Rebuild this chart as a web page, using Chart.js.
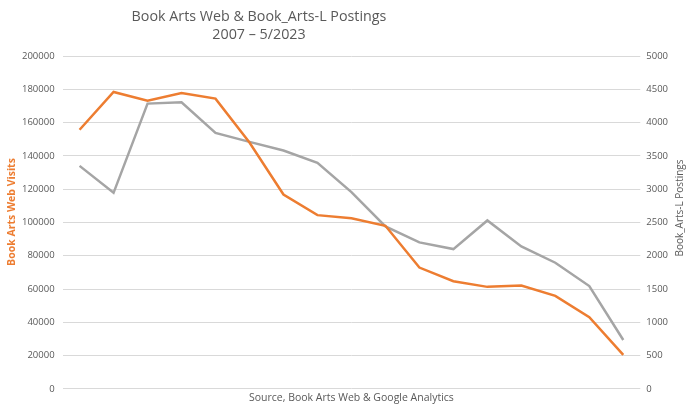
<!DOCTYPE html>
<html>
<head>
<meta charset="utf-8">
<script src="https://cdn.jsdelivr.net/npm/chart.js@4"></script>
<style>
  html, body { margin: 0; padding: 0; background: #fff; }
  #wrap { width: 686px; height: 406px; position: relative; }
</style>
</head>
<body>
<div id="wrap"><canvas id="chart"></canvas></div>
<script>
// years 2007 .. 2023 (x axis labels not shown in the original)
const years = ['2007', '2008', '2009', '2010', '2011', '2012', '2013', '2014', '2015',
               '2016', '2017', '2018', '2019', '2020', '2021', '2022', '2023'];
const webVisits = [155700, 178400, 173200, 177700, 174400, 148000, 116800, 104400, 102500,
                   98000, 72900, 64700, 61300, 62100, 55900, 43100, 20400];
const listPostings = [3350, 2945, 4285, 4305, 3845, 3710, 3580, 3395, 2955,
                      2440, 2200, 2100, 2530, 2140, 1895, 1545, 735];
const titleLines = ['Book Arts Web & Book_Arts-L Postings', '2007 \u2013 5/2023'];
const leftTitle = 'Book Arts Web Visits';
const rightTitle = 'Book_Arts-L Postings';

const fontFamily = '"Open Sans", "DejaVu Sans", sans-serif';
const textGray = '#595959';
const orange = '#ED7D31';

// title sits left of centre and the axis titles are not centred on the plot,
// so they are drawn here
const textPlugin = {
    id: 'extraText',
    afterDraw(chart) {
        const ctx = chart.ctx;
        ctx.save();
        ctx.fillStyle = textGray;
        ctx.font = '14.3px ' + fontFamily;
        ctx.textAlign = 'center';
        ctx.textBaseline = 'middle';
        ctx.fillText(titleLines[0], 259, 17);
        ctx.fillText(titleLines[1], 259, 35);

        ctx.save();
        ctx.fillStyle = orange;
        ctx.font = 'bold 10.5px ' + fontFamily;
        ctx.translate(12, 212);
        ctx.rotate(-Math.PI / 2);
        ctx.fillText(leftTitle, 0, 0);
        ctx.restore();

        ctx.font = '10px ' + fontFamily;
        ctx.translate(680, 208);
        ctx.rotate(-Math.PI / 2);
        ctx.fillText(rightTitle, 0, 0);
        ctx.restore();
    }
};

new Chart(document.getElementById('chart'), {
    type: 'line',
    data: {
        labels: years,
        datasets: [
            {
                label: 'Book Arts Web Visits',
                data: webVisits,
                borderColor: orange,
                borderWidth: 2.5,
                pointRadius: 0,
                tension: 0,
                yAxisID: 'y'
            },
            {
                label: 'Book_Arts-L Postings',
                data: listPostings,
                borderColor: '#A5A5A5',
                borderWidth: 2.5,
                pointRadius: 0,
                tension: 0,
                yAxisID: 'y1'
            }
        ]
    },
    options: {
        responsive: true,
        maintainAspectRatio: false,
        animation: false,
        layout: { padding: { top: 56, left: 14, right: 12, bottom: 1.5 } },
        plugins: {
            legend: { display: false },
            tooltip: { enabled: false }
        },
        scales: {
            x: {
                offset: true,
                grid: { display: false, drawTicks: false },
                border: { display: false },
                ticks: { display: false, padding: 0 },
                title: {
                    display: true,
                    text: 'Source, Book Arts Web & Google Analytics',
                    color: textGray,
                    font: { family: fontFamily, size: 10.5 },
                    padding: { top: 3, bottom: 0 }
                }
            },
            y: {
                position: 'left',
                min: 0,
                max: 200000,
                ticks: {
                    stepSize: 20000,
                    color: textGray,
                    font: { family: fontFamily, size: 9.5 },
                    padding: 8,
                    callback: v => String(v)
                },
                grid: { color: '#D9D9D9', drawTicks: false },
                border: { display: false }
            },
            y1: {
                position: 'right',
                min: 0,
                max: 5000,
                ticks: {
                    stepSize: 500,
                    color: textGray,
                    font: { family: fontFamily, size: 9.5 },
                    padding: 6,
                    callback: v => String(v)
                },
                grid: { display: false, drawTicks: false },
                border: { display: false }
            }
        }
    },
    plugins: [textPlugin]
});
</script>
</body>
</html>
